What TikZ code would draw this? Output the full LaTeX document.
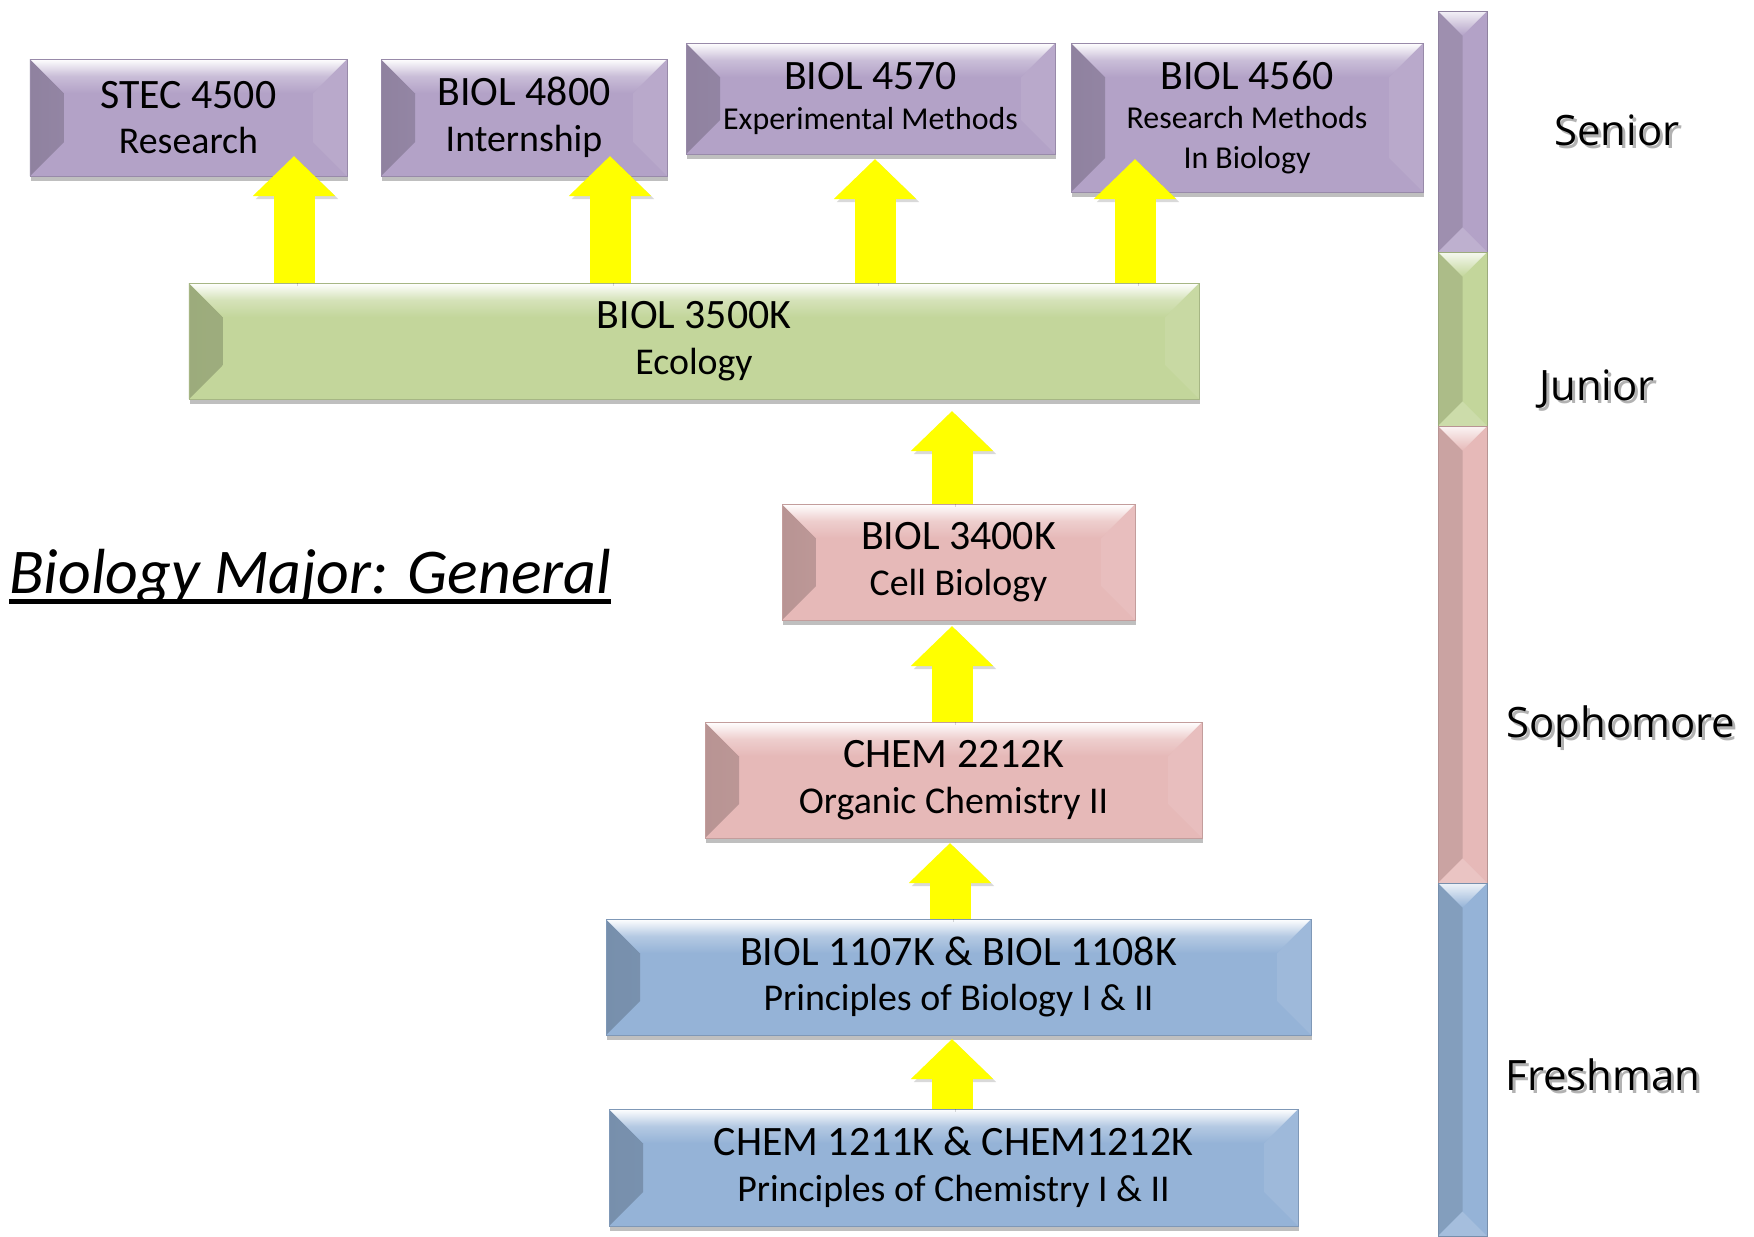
\documentclass[tikz,border=0pt]{standalone}
\usepackage{fontspec}
\setmainfont{Carlito}
\newfontfamily\yearfont{Open Sans}
\usetikzlibrary{arrows.meta,shadows}

\definecolor{seniorpurple}{HTML}{B3A2C7}
\definecolor{juniorgreen}{HTML}{C3D69B}
\definecolor{sophpink}{HTML}{E6B9B8}
\definecolor{freshblue}{HTML}{95B3D7}
\definecolor{arrowyellow}{HTML}{FFFF00}

\newcommand{\subline}{\fontsize{38}{46}\selectfont}
\newcommand{\smallsub}{\fontsize{32}{40}\selectfont}
\newcommand{\yearshadow}[1]{\makebox[0pt][l]{\hspace{3bp}\raisebox{-3bp}{\textcolor{black!30}{#1}}}#1}

\begin{document}
\begin{tikzpicture}[x=1bp,y=-1bp,
  course/.style={fill=#1, draw=#1!85!black, line width=.8bp, inner sep=0pt,
    minimum height=116bp, align=center, font=\fontsize{42}{46}\selectfont,
    drop shadow={shadow xshift=1bp, shadow yshift=-5bp, opacity=.25, fill=black},
    path picture={
      \shade[left color=#1!80!black, right color=#1]
        (path picture bounding box.south west) -- (path picture bounding box.north west)
        -- ([shift={(34bp,-34bp)}]path picture bounding box.north west)
        -- ([shift={(34bp,34bp)}]path picture bounding box.south west) -- cycle;
      \fill[#1!92!white]
        (path picture bounding box.south east) -- (path picture bounding box.north east)
        -- ([shift={(-34bp,-34bp)}]path picture bounding box.north east)
        -- ([shift={(-34bp,34bp)}]path picture bounding box.south east) -- cycle;
      \shade[top color=white, bottom color=#1, middle color=#1!70!white]
        (path picture bounding box.north west) -- (path picture bounding box.north east)
        -- ([shift={(-34bp,-34bp)}]path picture bounding box.north east)
        -- ([shift={(34bp,-34bp)}]path picture bounding box.north west) -- cycle;
    }},
  yearbar/.style={fill=#1, draw=#1!80!black, line width=.6bp, inner sep=0pt, minimum width=49bp,
    path picture={
      \fill[#1!88!black]
        (path picture bounding box.south west) -- (path picture bounding box.north west)
        -- ([shift={(24.5bp,-24.5bp)}]path picture bounding box.north west)
        -- ([shift={(24.5bp,24.5bp)}]path picture bounding box.south west) -- cycle;
      \shade[top color=#1!15!white, bottom color=#1]
        (path picture bounding box.north west) -- (path picture bounding box.north east)
        -- ([shift={(-24.5bp,-24.5bp)}]path picture bounding box.north east) -- cycle;
      \fill[#1!85!white]
        (path picture bounding box.south west) -- (path picture bounding box.south east)
        -- ([shift={(-24.5bp,24.5bp)}]path picture bounding box.south east) -- cycle;
    }},
  yearlabel/.style={anchor=base, inner sep=0pt, font=\yearfont\fontsize{42}{46}\selectfont},
  uparrow/.style={draw=arrowyellow, line width=41bp, -{Triangle[width=80bp,length=40bp]},
    preaction={draw=black, opacity=.15, transform canvas={shift={(3bp,-3bp)}}}}]
\useasboundingbox (0,0) rectangle (1754,1236);
\fill[white] (0,0) rectangle (1754,1236);
\draw (188.5, 117.5) node[course=seniorpurple, minimum width=317bp, minimum height=117bp] (stec) {STEC 4500\\\subline Research};
\draw (524, 117.5) node[course=seniorpurple, minimum width=286bp, minimum height=117bp] (intern) {BIOL 4800\\\subline Internship};
\draw (870.5, 98.5) node[course=seniorpurple, minimum width=369bp, minimum height=111bp, font=\fontsize{42}{40}\selectfont] (exper) {BIOL 4570\\\smallsub Experimental Methods};
\draw (1247, 117.5) node[course=seniorpurple, minimum width=352bp, minimum height=149bp, font=\fontsize{42}{40}\selectfont] (resmeth) {BIOL 4560\\\smallsub Research Methods\\\smallsub In Biology};
\draw (694, 341) node[course=juniorgreen, minimum width=1010bp] (ecology) {BIOL 3500K\\\subline Ecology};
\draw (958.5, 562) node[course=sophpink, minimum width=353bp] (cell) {BIOL 3400K\\\subline Cell Biology};
\draw (953.5, 780) node[course=sophpink, minimum width=497bp] (organic) {CHEM 2212K\\\subline Organic Chemistry II};
\draw (958.5, 977) node[course=freshblue, minimum width=705bp] (biology) {BIOL 1107K \& BIOL 1108K\\\subline Principles of Biology I \& II};
\draw (953.5, 1167.5) node[course=freshblue, minimum width=689bp, minimum height=117bp] (chemistry) {CHEM 1211K \& CHEM1212K\\\subline Principles of Chemistry I \& II};
\draw (1462.5, 131.5) node[yearbar=seniorpurple, minimum height=241bp] (senbar) {};
\draw (1462.5, 339) node[yearbar=juniorgreen, minimum height=174bp] (junbar) {};
\draw (1462.5, 654.5) node[yearbar=sophpink, minimum height=457bp] (sopbar) {};
\draw (1462.5, 1059.5) node[yearbar=freshblue, minimum height=353bp] (frebar) {};
\draw (1617, 145) node[yearlabel] (senior) {\yearshadow{Senior}};
\draw (1597, 400) node[yearlabel] (junior) {\yearshadow{Junior}};
\draw (1621, 737) node[yearlabel] (sophomore) {\yearshadow{Sophomore}};
\draw (1603, 1090) node[yearlabel] (freshman) {\yearshadow{Freshman}};
\draw (9, 593) node[anchor=base west, inner sep=0pt, font=\itshape\fontsize{64}{70}\selectfont] (title) {Biology Major: General};
\draw[line width=5bp] ([yshift=-8bp]title.base west) -- ([yshift=-8bp]title.base east);
\coordinate (tipstec) at (294, 156);
\coordinate (tipintern) at (610, 156);
\coordinate (tipexper) at (875, 159);
\coordinate (tipresm) at (1135, 159);
\coordinate (tipeco) at (952, 411);
\coordinate (tipcell) at (952, 626);
\coordinate (tiporg) at (950, 843);
\coordinate (tipbio) at (952, 1039);
\draw[uparrow] (ecology.north -| tipstec) -- (tipstec);
\draw[uparrow] (ecology.north -| tipintern) -- (tipintern);
\draw[uparrow] (ecology.north -| tipexper) -- (tipexper);
\draw[uparrow] (ecology.north -| tipresm) -- (tipresm);
\draw[uparrow] (cell.north -| tipeco) -- (tipeco);
\draw[uparrow] (organic.north -| tipcell) -- (tipcell);
\draw[uparrow] (biology.north -| tiporg) -- (tiporg);
\draw[uparrow] (chemistry.north -| tipbio) -- (tipbio);
\end{tikzpicture}
\end{document}
